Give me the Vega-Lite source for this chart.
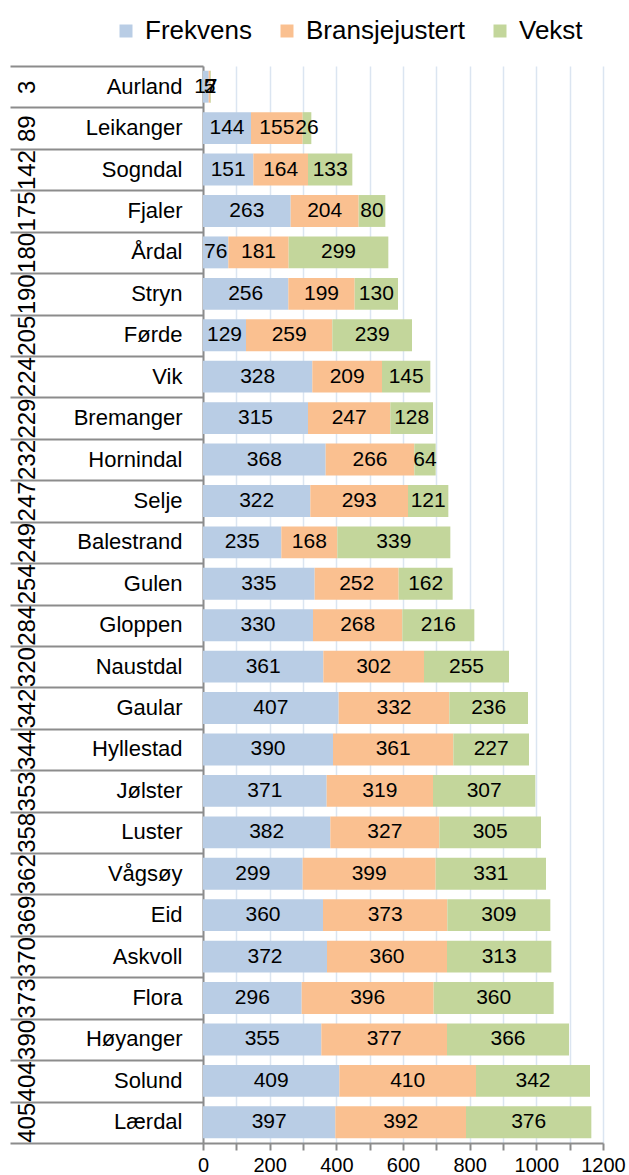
{
  "$schema": "https://vega.github.io/schema/vega-lite/v6.json",
  "autosize": {"type": "none"},
  "padding": {"left": 203, "top": 66, "right": 26, "bottom": 32},
  "width": 400,
  "height": 1077,
  "background": "white",
  "data": {
    "values": [
      {"rank": 3, "name": "Aurland", "Frekvens": 17, "Bransjejustert": 5, "Vekst": 2},
      {"rank": 89, "name": "Leikanger", "Frekvens": 144, "Bransjejustert": 155, "Vekst": 26},
      {"rank": 142, "name": "Sogndal", "Frekvens": 151, "Bransjejustert": 164, "Vekst": 133},
      {"rank": 175, "name": "Fjaler", "Frekvens": 263, "Bransjejustert": 204, "Vekst": 80},
      {"rank": 180, "name": "Årdal", "Frekvens": 76, "Bransjejustert": 181, "Vekst": 299},
      {"rank": 190, "name": "Stryn", "Frekvens": 256, "Bransjejustert": 199, "Vekst": 130},
      {"rank": 205, "name": "Førde", "Frekvens": 129, "Bransjejustert": 259, "Vekst": 239},
      {"rank": 224, "name": "Vik", "Frekvens": 328, "Bransjejustert": 209, "Vekst": 145},
      {"rank": 229, "name": "Bremanger", "Frekvens": 315, "Bransjejustert": 247, "Vekst": 128},
      {"rank": 232, "name": "Hornindal", "Frekvens": 368, "Bransjejustert": 266, "Vekst": 64},
      {"rank": 247, "name": "Selje", "Frekvens": 322, "Bransjejustert": 293, "Vekst": 121},
      {"rank": 249, "name": "Balestrand", "Frekvens": 235, "Bransjejustert": 168, "Vekst": 339},
      {"rank": 254, "name": "Gulen", "Frekvens": 335, "Bransjejustert": 252, "Vekst": 162},
      {"rank": 284, "name": "Gloppen", "Frekvens": 330, "Bransjejustert": 268, "Vekst": 216},
      {"rank": 320, "name": "Naustdal", "Frekvens": 361, "Bransjejustert": 302, "Vekst": 255},
      {"rank": 342, "name": "Gaular", "Frekvens": 407, "Bransjejustert": 332, "Vekst": 236},
      {"rank": 344, "name": "Hyllestad", "Frekvens": 390, "Bransjejustert": 361, "Vekst": 227},
      {"rank": 353, "name": "Jølster", "Frekvens": 371, "Bransjejustert": 319, "Vekst": 307},
      {"rank": 358, "name": "Luster", "Frekvens": 382, "Bransjejustert": 327, "Vekst": 305},
      {"rank": 362, "name": "Vågsøy", "Frekvens": 299, "Bransjejustert": 399, "Vekst": 331},
      {"rank": 369, "name": "Eid", "Frekvens": 360, "Bransjejustert": 373, "Vekst": 309},
      {"rank": 370, "name": "Askvoll", "Frekvens": 372, "Bransjejustert": 360, "Vekst": 313},
      {"rank": 373, "name": "Flora", "Frekvens": 296, "Bransjejustert": 396, "Vekst": 360},
      {"rank": 390, "name": "Høyanger", "Frekvens": 355, "Bransjejustert": 377, "Vekst": 366},
      {"rank": 404, "name": "Solund", "Frekvens": 409, "Bransjejustert": 410, "Vekst": 342},
      {"rank": 405, "name": "Lærdal", "Frekvens": 397, "Bransjejustert": 392, "Vekst": 376}
    ]
  },
  "transform": [
    {"fold": ["Frekvens", "Bransjejustert", "Vekst"], "as": ["type", "value"]},
    {"calculate": "datum.rank + '|' + datum.name", "as": "key"},
    {"calculate": "indexof(['Frekvens','Bransjejustert','Vekst'], datum.type)", "as": "o"},
    {"stack": "value", "groupby": ["key"], "sort": [{"field": "o", "order": "ascending"}], "as": ["x0", "x1"]},
    {"calculate": "(datum.x0 + datum.x1) / 2", "as": "mid"}
  ],
  "layer": [
    {
      "mark": {"type": "bar", "height": {"band": 0.77}},
      "encoding": {
        "y": {
          "field": "key", "type": "nominal",
          "sort": {"field": "rank", "op": "min", "order": "ascending"},
          "scale": {"paddingInner": 0, "paddingOuter": 0},
          "axis": {
            "orient": "left",
            "title": null, "ticks": false, "grid": false,
            "domain": true, "domainColor": "#8c8c8c", "domainWidth": 2,
            "labelPadding": 21, "labelFontSize": 22, "labelAlign": "right",
            "labelColor": "#000000", "labelFont": "Liberation Sans",
            "labelExpr": "split(datum.label, '|')[1]"
          }
        },
        "x": {"field": "x0", "type": "quantitative", "title": null,
              "scale": {"domain": [0, 1200]}},
        "x2": {"field": "x1"},
        "color": {
          "field": "type", "type": "nominal",
          "scale": {"domain": ["Frekvens", "Bransjejustert", "Vekst"],
                    "range": ["#b9cde5", "#fac090", "#c3d69b"]},
          "legend": {
            "title": null, "orient": "none", "direction": "horizontal",
            "legendX": -90, "legendY": -48,
            "symbolType": "square", "symbolSize": 169, "symbolStrokeWidth": 0,
            "labelFontSize": 26, "labelFont": "Liberation Sans", "labelColor": "#000000",
            "labelOffset": 6, "columnPadding": 22
          }
        }
      }
    },
    {
      "mark": {"type": "text", "fontSize": 21, "font": "Liberation Sans", "color": "#000000", "align": "center", "baseline": "middle"},
      "encoding": {
        "y": {
          "field": "key", "type": "nominal",
          "sort": {"field": "rank", "op": "min", "order": "ascending"},
          "axis": {
            "orient": "left",
            "title": null, "domain": false, "grid": false,
            "ticks": true, "tickSize": 193, "tickBand": "extent",
            "tickColor": "#8c8c8c", "tickWidth": 2,
            "labelAngle": 270, "labelAlign": "center", "labelBaseline": "middle",
            "labelPadding": -17, "labelFontSize": 24, "labelFont": "Liberation Sans",
            "labelColor": "#000000",
            "labelExpr": "split(datum.label, '|')[0]"
          }
        },
        "x": {"field": "mid", "type": "quantitative", "title": null},
        "text": {"field": "value", "type": "quantitative"}
      }
    }
  ],
  "resolve": {"axis": {"y": "independent"}},
  "config": {
    "view": {"stroke": null},
    "axisX": {
      "values": [0, 200, 400, 600, 800, 1000, 1200],
      "format": "d",
      "grid": true, "gridColor": "#dbe5f1", "gridWidth": 1.5,
      "domainColor": "#8c8c8c", "domainWidth": 2,
      "tickColor": "#8c8c8c", "tickWidth": 2, "tickSize": 7,
      "labelFontSize": 20, "labelFont": "Liberation Sans", "labelColor": "#000000",
      "labelPadding": 5, "labelFlush": false
    }
  }
}
